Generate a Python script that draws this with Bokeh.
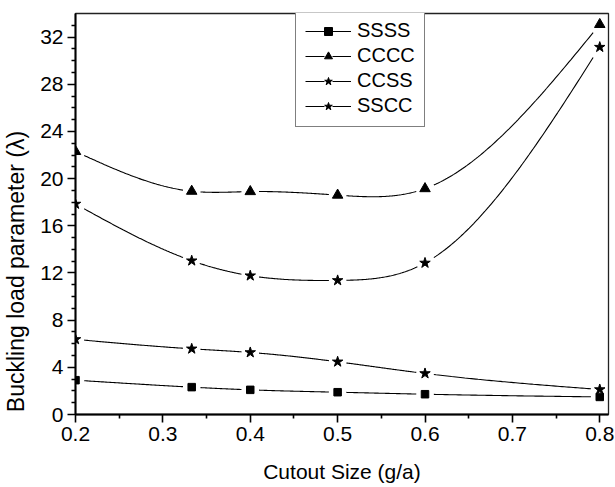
import numpy as np
from bokeh.plotting import figure
from bokeh.models import Range1d, Legend, LegendItem, FixedTicker, ColumnDataSource
from bokeh.embed import file_html
from bokeh.resources import INLINE

# ---- data ----
cutout = [0.2, 0.333, 0.4, 0.5, 0.6, 0.8]
ssss = [2.91, 2.32, 2.09, 1.89, 1.72, 1.49]
cccc = [22.3, 18.93, 18.9, 18.6, 19.15, 33.07]
ccss = [17.85, 13.04, 11.77, 11.37, 12.85, 31.15]
sscc = [6.37, 5.57, 5.26, 4.47, 3.48, 2.12]
series_names = ["SSSS", "CCCC", "CCSS", "SSCC"]
series_markers = ["square", "triangle", "star", "star"]
x_major = [0.2, 0.3, 0.4, 0.5, 0.6, 0.7, 0.8]
x_minor = [0.25, 0.35, 0.45, 0.55, 0.65, 0.75]
y_major = [0, 4, 8, 12, 16, 20, 24, 28, 32]
y_minor = [1, 2, 3, 5, 6, 7, 9, 10, 11, 13, 14, 15, 17, 18, 19, 21, 22, 23,
           25, 26, 27, 29, 30, 31, 33]
x_title = "Cutout Size (g/a)"
y_title = "Buckling load parameter (\u03bb)"

FONT = "Liberation Sans"
X0, X1, Y0, Y1 = 0.2, 0.81, 0.0, 34.0
FW, FH = 535, 401


def spline_path(x, y, n=80):
    """Natural cubic spline drawn through the data points (line style only)."""
    x = np.asarray(x, float)
    y = np.asarray(y, float)
    k = len(x)
    h = np.diff(x)
    A = np.zeros((k, k))
    b = np.zeros(k)
    A[0, 0] = A[-1, -1] = 1.0
    for i in range(1, k - 1):
        A[i, i - 1] = h[i - 1]
        A[i, i] = 2 * (h[i - 1] + h[i])
        A[i, i + 1] = h[i]
        b[i] = 3 * ((y[i + 1] - y[i]) / h[i] - (y[i] - y[i - 1]) / h[i - 1])
    c = np.linalg.solve(A, b)
    xs, ys = [], []
    for i in range(k - 1):
        bi = (y[i + 1] - y[i]) / h[i] - h[i] * (2 * c[i] + c[i + 1]) / 3
        di = (c[i + 1] - c[i]) / (3 * h[i])
        t = np.linspace(0, h[i], n, endpoint=(i == k - 2))
        xs.append(x[i] + t)
        ys.append(y[i] + bi * t + c[i] * t ** 2 + di * t ** 3)
    return np.concatenate(xs), np.concatenate(ys)


def gapped(x, y, gap_px=8.5):
    xs, ys = spline_path(x, y)
    sx = FW / (X1 - X0)
    sy = FH / (Y1 - Y0)
    mask = np.zeros(len(xs), bool)
    for xi, yi in zip(x, y):
        d = np.hypot((xs - xi) * sx, (ys - yi) * sy)
        mask |= d < gap_px
    ys = ys.copy()
    ys[mask] = np.nan
    return xs, ys


p = figure(width=615, height=487, x_range=Range1d(X0, X1), y_range=Range1d(Y0, Y1),
           output_backend="svg", toolbar_location=None,
           min_border_left=73, min_border_right=7, min_border_top=13, min_border_bottom=73)
p.xgrid.visible = False
p.ygrid.visible = False
p.outline_line_color = "#222222"
p.outline_line_width = 1.3
p.background_fill_color = "white"
p.border_fill_color = "white"

for ax in (p.xaxis[0], p.yaxis[0]):
    ax.axis_line_width = 2
    ax.axis_line_color = "black"
    ax.major_tick_line_width = 1.6
    ax.minor_tick_line_width = 1.6
    ax.major_tick_in = 0
    ax.major_tick_out = 8
    ax.minor_tick_in = 0
    ax.minor_tick_out = 4
    ax.major_label_text_font = FONT
    ax.major_label_text_font_size = "21px"
    ax.major_label_text_color = "black"
    ax.axis_label_text_font = FONT
    ax.axis_label_text_font_style = "normal"
    ax.axis_label_text_color = "black"

p.xaxis.ticker = FixedTicker(ticks=x_major, minor_ticks=x_minor)
p.yaxis.ticker = FixedTicker(ticks=y_major, minor_ticks=y_minor)
p.xaxis.major_label_overrides = {v: f"{v:.1f}" for v in x_major}
p.xaxis.axis_label = x_title
p.xaxis.axis_label_text_font_size = "21px"
# the original's y title sits low on the axis: pad its top end with no-break spaces
p.yaxis.axis_label = y_title + "\u00a0" * 18
p.yaxis.axis_label_text_font_size = "23px"
p.xaxis.major_label_standoff = 4
p.yaxis.major_label_standoff = 4
p.xaxis.axis_label_standoff = 16
p.yaxis.axis_label_standoff = 8

all_series = [ssss, cccc, ccss, sscc]
line_rs, white_rs, mark_rs = [], [], []
for vals in all_series:
    lx, ly = gapped(cutout, vals)
    line_rs.append(p.line(lx, ly, line_color="black", line_width=1.1))
for vals in all_series:
    src = ColumnDataSource(dict(x=cutout, y=vals))
    white_rs.append(p.scatter("x", "y", source=src, marker="circle", size=12,
                              fill_color="white", line_color="white", line_width=0))
sizes = {"square": 7.5, "triangle": 10.5, "star": 11}
for vals, mk in zip(all_series, series_markers):
    src = ColumnDataSource(dict(x=cutout, y=vals))
    mark_rs.append(p.scatter("x", "y", source=src, marker=mk, size=sizes[mk],
                             fill_color="black", line_color="black", line_width=1))

items = [LegendItem(label=n, renderers=[l, w, m])
         for n, l, w, m in zip(series_names, line_rs, white_rs, mark_rs)]
legend = Legend(items=items, location=(220, 287))
legend.border_line_color = "black"
legend.border_line_width = 1.2
legend.background_fill_color = "white"
legend.background_fill_alpha = 1.0
legend.label_text_font = FONT
legend.label_text_font_size = "20px"
legend.label_text_color = "black"
legend.glyph_width = 46
legend.glyph_height = 20
legend.label_height = 20
legend.spacing = 2
legend.padding = 9
legend.label_standoff = 6
legend.margin = 0
p.add_layout(legend)

open("out.html", "w").write(file_html(p, INLINE))
